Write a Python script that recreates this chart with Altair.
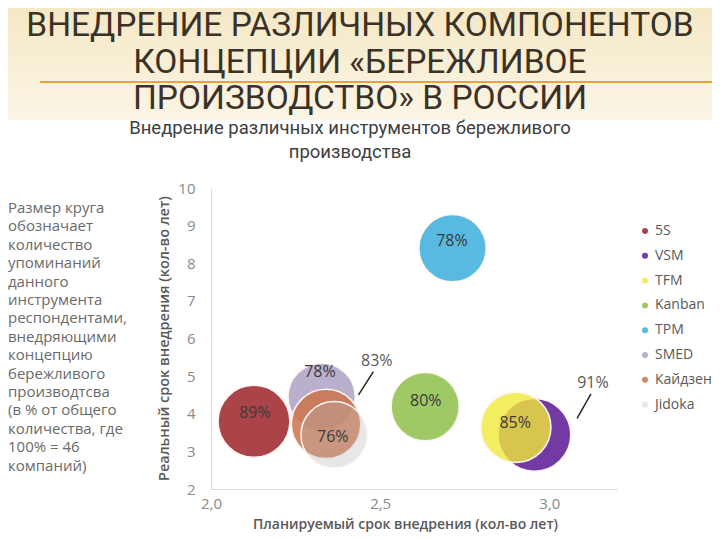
import altair as alt
import pandas as pd

# ---- data ----
tools = ["5S", "VSM", "TFM", "Kanban", "TPM", "SMED", "Кайдзен", "Jidoka"]
planned = [2.127, 2.956, 2.901, 2.633, 2.714, 2.327, 2.340, 2.364]
actual = [3.80, 3.44, 3.64, 4.19, 8.40, 4.45, 3.73, 3.44]
share = [89, 91, 85, 80, 78, 78, 83, 76]
label_x = [2.130, 3.129, 2.899, 2.635, 2.712, 2.322, 2.490, 2.360]
label_y = [4.03, 4.81, 3.76, 4.34, 8.58, 5.10, 5.41, 3.375]
callout = [False, True, False, False, False, False, True, False]
leader_x1 = [2.480, 3.123]
leader_y1 = [5.12, 4.53]
leader_x2 = [2.436, 3.082]
leader_y2 = [4.50, 3.88]

colors = ["rgba(166,58,63,0.95)", "rgba(107,47,158,0.95)", "rgba(240,232,58,0.8)",
          "rgba(153,198,93,0.95)", "rgba(79,182,222,0.95)", "rgba(179,167,201,0.9)",
          "rgba(205,115,75,0.85)", "rgba(180,180,180,0.32)"]

slide_title = "ВНЕДРЕНИЕ РАЗЛИЧНЫХ КОМПОНЕНТОВ\nКОНЦЕПЦИИ «БЕРЕЖЛИВОЕ\nПРОИЗВОДСТВО» В РОССИИ"
chart_title = "Внедрение различных инструментов бережливого\nпроизводства"
note = ("Размер круга\nобозначает\nколичество\nупоминаний\nданного\nинструмента\n"
        "респондентами,\nвнедряющими\nконцепцию\nбережливого\nпроизводтсва\n"
        "(в % от общего\nколичества, где\n100% = 46\nкомпаний)")
x_title = "Планируемый срок внедрения (кол-во лет)"
y_title = "Реальный срок внедрения (кол-во лет)"

df = pd.DataFrame({
    "idx": list(range(len(tools))),
    "tool": tools,
    "planned": planned,
    "actual": actual,
    "share": share,
    "lx": label_x,
    "ly": label_y,
    "callout": callout,
})
df["label"] = df["share"].astype(str) + "%"
leaders = pd.DataFrame({"x1": leader_x1, "y1": leader_y1, "x2": leader_x2, "y2": leader_y2})
one = pd.DataFrame({"k": [0]})

FONT = "Open Sans"

xscale = alt.Scale(domain=[2, 3.2], nice=False, zero=False)
yscale = alt.Scale(domain=[2, 10], nice=False, zero=False)
xaxis = alt.Axis(
    values=[2, 2.5, 3], labelExpr="replace(format(datum.value, '.1f'), '.', ',')",
    labelFlush=False, labelOverlap=False,
    title=x_title, titleX=194, titleY=35, titleBaseline="middle", titleFontSize=14,
    titleAlign="center", labelPadding=7, labelBaseline="top")
yaxis = alt.Axis(
    values=list(range(2, 11)), labelFlush=False, labelOverlap=False,
    title=y_title, titleX=-47, titleY=150, titleAngle=270,
    titleAlign="center", titleBaseline="middle", labelPadding=16)

band = alt.Chart(one).mark_rect(
    fill=alt.Gradient(
        gradient="linear",
        stops=[alt.GradientStop(color="#f5e8c6", offset=0),
               alt.GradientStop(color="#f9f0d8", offset=0.6),
               alt.GradientStop(color="#fbf5e6", offset=1)],
        x1=0, x2=0, y1=0, y2=1),
).encode(x=alt.value(-203), x2=alt.value(501), y=alt.value(-180), y2=alt.value(-68))

orange_line = alt.Chart(one).mark_rule(color="#e2a63f", strokeWidth=2).encode(
    x=alt.value(-171), x2=alt.value(501), y=alt.value(-106))

title_txt = alt.Chart(one).mark_text(
    text=slide_title, lineBreak="\n", lineHeight=36.5, align="center", baseline="middle",
    font="Roboto", fontSize=33.5, color="#3a3226",
).encode(x=alt.value(149), y=alt.value(-162))

sub_txt = alt.Chart(one).mark_text(
    text=chart_title, lineBreak="\n", lineHeight=24, align="center", baseline="middle",
    font="Roboto", fontSize=18.5, color="#404040",
).encode(x=alt.value(139), y=alt.value(-60))

note_txt = alt.Chart(one).mark_text(
    text=note, lineBreak="\n", lineHeight=18.4, align="left", baseline="middle",
    font=FONT, fontSize=15, color="#6a6a6a",
).encode(x=alt.value(-203), y=alt.value(20))

bubbles = alt.Chart(df).mark_circle(opacity=1, stroke="#fff6f2", strokeWidth=1.5).encode(
    x=alt.X("planned:Q", scale=xscale, axis=xaxis),
    y=alt.Y("actual:Q", scale=yscale, axis=yaxis),
    size=alt.Size("share:Q", scale=alt.Scale(domain=[0, 100], range=[0, 5800]), legend=None),
    color=alt.Color("tool:N", scale=alt.Scale(domain=tools, range=colors), legend=alt.Legend(
        orient="none", legendX=427, legendY=36, title=None, symbolType="circle", symbolSize=36,
        labelFontSize=14, labelFont=FONT, labelColor="#595959", rowPadding=10.8,
        symbolStrokeWidth=0, labelOffset=3, padding=0, symbolOpacity=1)),
    order=alt.Order("idx:Q"),
)

labels = alt.Chart(df).mark_text(font=FONT, fontSize=16, align="center", baseline="middle").encode(
    x=alt.X("lx:Q", scale=xscale, axis=xaxis),
    y=alt.Y("ly:Q", scale=yscale, axis=yaxis),
    text="label:N",
    color=alt.condition("datum.callout", alt.value("#595959"), alt.value("#3a3a3a")),
)

lead = alt.Chart(leaders).mark_rule(color="#262626", strokeWidth=1.5).encode(
    x=alt.X("x1:Q", scale=xscale, axis=xaxis), y=alt.Y("y1:Q", scale=yscale, axis=yaxis),
    x2="x2:Q", y2="y2:Q")

chart = alt.layer(band, orange_line, title_txt, sub_txt, note_txt, bubbles, labels, lead).properties(
    width=406, height=301,
    autosize=alt.AutoSizeParams(type="none"),
    padding={"left": 203, "top": 180, "right": 95, "bottom": 43},
    background="white",
).configure_view(stroke=None).configure_axis(
    grid=False, ticks=False, domainColor="#d9d9d9", domainWidth=1,
    labelFont=FONT, labelFontSize=15, labelColor="#8a8a8a",
    titleFont=FONT, titleFontSize=14.5, titleFontWeight=600, titleColor="#595959",
)

chart.save("out.html", embed_options={"renderer": "svg", "actions": False})
